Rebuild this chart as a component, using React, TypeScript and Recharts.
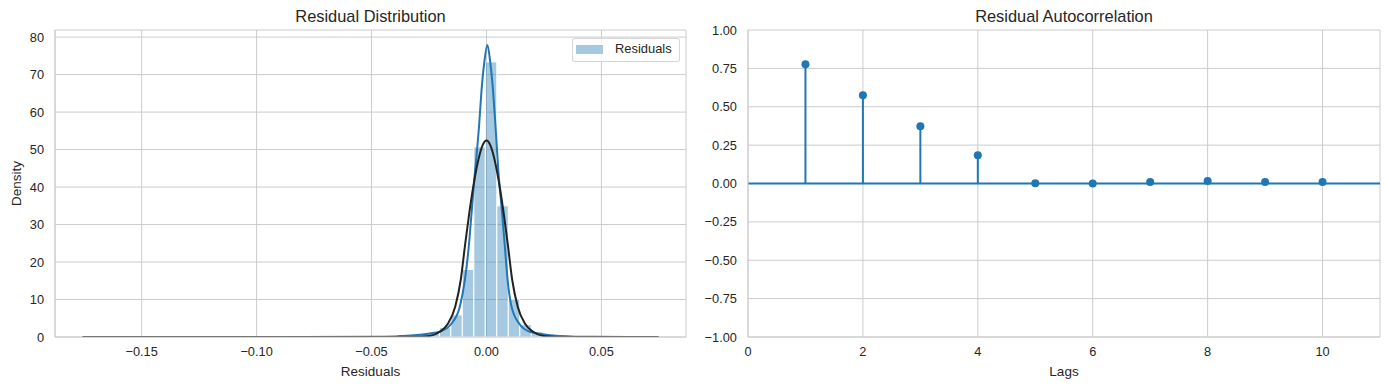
import React from 'react';
import {
  ComposedChart,
  Line,
  Scatter,
  XAxis,
  YAxis,
  CartesianGrid,
  ReferenceArea,
  ReferenceLine,
  Label,
} from 'recharts';

// histogram of residuals (density per bin)
const binStart = -0.1755;
const binWidth = 0.005;
const binHeights = [
  0, 0, 0, 0, 0, 0, 0, 0, 0, 0,
  0, 0, 0, 0, 0, 0, 0, 0, 0, 0,
  0, 0, 0, 0, 0, 0.1, 0.1, 0.2, 0.3, 0.6,
  1.2, 2.5, 5.9, 18.0, 50.7, 73.4, 35.0, 10.1, 3.3, 1.4,
  0.6, 0.3, 0.1, 0, 0, 0, 0, 0, 0, 0,
];

// kde curve
const kdeX = [-0.1757, -0.12, -0.08, -0.05, -0.04, -0.0377, -0.029, -0.0247, -0.0203, -0.0152, -0.0116, -0.0094, -0.0077, -0.0065, -0.0052, -0.0032, -0.0022, -0.001, 0.0004, 0.0017, 0.0029, 0.0039, 0.0053, 0.0068, 0.008, 0.0092, 0.0109, 0.0142, 0.0188, 0.0231, 0.0318, 0.0461, 0.0749];
const kdeY = [0, 0, 0.01, 0.05, 0.15, 0.25, 0.6, 0.95, 1.4, 3.6, 8.1, 15.2, 24.1, 33.0, 42.5, 56.5, 65.4, 73, 77.9, 73, 65.4, 56.5, 43.2, 33.0, 24.1, 15.2, 8.1, 3.6, 1.4, 0.9, 0.3, 0.05, 0];

// fitted normal curve
const fitX = [-0.1757, -0.06, -0.03, -0.025, -0.0203, -0.0167, -0.0136, -0.0112, -0.0094, -0.0075, -0.0054, -0.0034, -0.0017, 0, 0.0017, 0.0034, 0.0054, 0.0075, 0.0094, 0.0112, 0.0136, 0.0167, 0.0203, 0.025, 0.03, 0.06, 0.0749];
const fitY = [0, 0, 0.02, 0.24, 1.4, 3.6, 8.1, 15.2, 24.1, 33.0, 41.4, 47.6, 51.1, 52.4, 51.1, 47.6, 41.4, 33.0, 24.1, 15.2, 8.1, 3.6, 1.4, 0.24, 0.02, 0, 0];

const residualTicks = [-0.15, -0.1, -0.05, 0, 0.05];
const densityTicks = [0, 10, 20, 30, 40, 50, 60, 70, 80];

// autocorrelation
const lags = [1, 2, 3, 4, 5, 6, 7, 8, 9, 10];
const acfValues = [0.777, 0.575, 0.373, 0.184, 0.001, 0.0, 0.01, 0.016, 0.01, 0.01];
const lagTicks = [0, 2, 4, 6, 8, 10];
const acfTicks = [-1, -0.75, -0.5, -0.25, 0, 0.25, 0.5, 0.75, 1];

const BLUE = '#1f77b4';
const GRID = '#cccccc';
const TEXT = '#262626';
const FONT = '"Liberation Sans", Arial, sans-serif';

const bins = binHeights
  .map((h, i) => ({ x1: binStart + i * binWidth, x2: binStart + (i + 1) * binWidth, h }))
  .filter((b) => b.h > 0);
const kdeData = kdeX.map((x, i) => ({ x, y: kdeY[i] }));
const fitData = fitX.map((x, i) => ({ x, y: fitY[i] }));
const acfData = lags.map((x, i) => ({ x, y: acfValues[i] }));

const fmt2 = (v: number) => v.toFixed(2).replace('-', '\u2212');
const tickStyle = { fill: TEXT, fontSize: 12.8 };
const labelStyle = { fill: TEXT, fontSize: 13.5 };

const StemDot = (props: any) => <circle cx={props.cx} cy={props.cy} r={4} fill={BLUE} />;

const titleStyle = (center: number): React.CSSProperties => ({
  position: 'absolute',
  top: 8,
  left: center - 200,
  width: 400,
  textAlign: 'center',
  fontSize: 16.4,
  lineHeight: 1,
  color: TEXT,
});

export default function App() {
  return (
    <div style={{ position: 'relative', width: 1389, height: 390, fontFamily: FONT, background: '#fff' }}>
      <style>{'body{margin:0}'}</style>
      <div style={titleStyle(370.5)}>Residual Distribution</div>
      <div style={titleStyle(1064)}>Residual Autocorrelation</div>

      <div style={{ position: 'absolute', left: 0, top: 0 }}>
        <ComposedChart width={700} height={390} margin={{ top: 30, right: 14, bottom: 0, left: 0 }}>
          <CartesianGrid stroke={GRID} strokeWidth={1} />
          <XAxis
            type="number"
            dataKey="x"
            domain={[-0.1877, 0.0868]}
            allowDataOverflow
            ticks={residualTicks}
            interval={0}
            tickFormatter={fmt2}
            tick={tickStyle}
            tickLine={false}
            tickSize={0}
            tickMargin={10}
            axisLine={{ stroke: GRID }}
            height={53}
          >
            <Label value="Residuals" position="center" dy={8} style={labelStyle} />
          </XAxis>
          <YAxis
            type="number"
            domain={[0, 81.9]}
            allowDataOverflow
            ticks={densityTicks}
            interval={0}
            tick={tickStyle}
            tickLine={false}
            tickSize={0}
            tickMargin={11}
            axisLine={{ stroke: GRID }}
            width={55}
          >
            <Label value="Density" position="center" angle={-90} dx={-11} style={labelStyle} />
          </YAxis>
          {bins.map((b, i) => (
            <ReferenceArea
              key={i}
              x1={b.x1}
              x2={b.x2}
              y1={0}
              y2={b.h}
              fill={BLUE}
              fillOpacity={0.4}
              stroke="#ffffff"
              strokeWidth={1}
              ifOverflow="visible"
            />
          ))}
          <Line data={kdeData} dataKey="y" type="monotone" stroke={BLUE} strokeWidth={2} dot={false} isAnimationActive={false} />
          <Line data={fitData} dataKey="y" type="monotone" stroke="#222222" strokeWidth={2} dot={false} isAnimationActive={false} />
        </ComposedChart>
      </div>

      <div
        style={{
          position: 'absolute',
          left: 572,
          top: 38,
          width: 108,
          height: 24,
          boxSizing: 'border-box',
          border: '1px solid rgba(204,204,204,0.8)',
          borderRadius: 3,
          background: 'rgba(255,255,255,0.8)',
        }}
      >
        <div style={{ position: 'absolute', left: 3, top: 6, width: 27, height: 9, background: 'rgb(165,201,225)' }} />
        <div style={{ position: 'absolute', left: 42, top: 4, fontSize: 12.9, lineHeight: 1, color: TEXT }}>Residuals</div>
      </div>

      <div style={{ position: 'absolute', left: 700, top: 0 }}>
        <ComposedChart width={689} height={390} margin={{ top: 30, right: 9, bottom: 0, left: 0 }}>
          <CartesianGrid stroke={GRID} strokeWidth={1} />
          <XAxis
            type="number"
            dataKey="x"
            domain={[0, 11]}
            allowDataOverflow
            ticks={lagTicks}
            interval={0}
            tick={tickStyle}
            tickLine={false}
            tickSize={0}
            tickMargin={10}
            axisLine={{ stroke: GRID }}
            height={53}
          >
            <Label value="Lags" position="center" dy={8} style={labelStyle} />
          </XAxis>
          <YAxis
            type="number"
            dataKey="y"
            domain={[-1, 1]}
            allowDataOverflow
            ticks={acfTicks}
            interval={0}
            tickFormatter={fmt2}
            tick={tickStyle}
            tickLine={false}
            tickSize={0}
            tickMargin={11}
            axisLine={{ stroke: GRID }}
            width={48}
          />
          <ReferenceLine y={0} stroke={BLUE} strokeWidth={2} />
          {acfData.map((d) => (
            <ReferenceLine
              key={d.x}
              segment={[{ x: d.x, y: 0 }, { x: d.x, y: d.y }]}
              stroke={BLUE}
              strokeWidth={2}
            />
          ))}
          <Scatter data={acfData} dataKey="y" shape={StemDot} fill={BLUE} isAnimationActive={false} />
        </ComposedChart>
      </div>
    </div>
  );
}
